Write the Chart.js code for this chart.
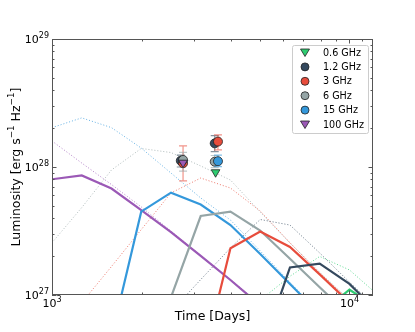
<!DOCTYPE html>
<html>
<head>
<meta charset="utf-8">
<script src="https://cdn.jsdelivr.net/npm/chart.js@4.4.0/dist/chart.umd.min.js"></script>
<style>
    html, body { margin: 0; padding: 0; background: #fff; }
</style>
</head>
<body>
<canvas id="lumChart" width="415" height="332"></canvas>
<script>
// model epochs (days) - luminosities below are in units of 1e27 erg/s/Hz
const modelTimes = [1000, 1259, 1585, 1995, 2512, 3162, 3981, 5012, 6310, 7943, 10000, 12589];

const model06Solid  = [null, null, null, null, null, null, null, null, null, 0.71, 1.10, 0.78];
const model06Dotted = [null, null, null, null, null, null, null, 0.91, 1.40, 2.00, 1.57, 0.98];
const model12Solid  = [null, null, null, null, null, null, null, 0.35, 1.64, 1.76, 1.22, 0.72];
const model12Dotted = [null, null, null, null, 0.74, 1.32, 2.33, 3.89, 3.52, 2.13, 1.26, 0.76];
const model3Solid   = [null, null, null, null, null, 0.26, 2.32, 3.13, 2.37, 1.45, 0.87, null];
const model3Dotted  = [null, 0.87, 1.67, 3.24, 6.27, 8.20, 6.85, 4.53, 2.56, 1.48, 0.91, null];
const model6Solid   = [null, null, null, 0.32, 0.96, 4.14, 4.48, 3.19, 1.92, 1.15, 0.69, null];
const model6Dotted  = [2.56, 4.82, 9.48, 13.96, 12.97, 10.19, 7.91, 4.45, 2.55, 1.51, 0.91, null];
const model15Solid  = [null, null, 0.47, 4.48, 6.30, 5.09, 3.52, 2.09, 1.22, 0.71, null, null];
const model15Dotted = [20.3, 24.2, 20.3, 14.06, 8.97, 5.73, 3.85, 2.21, 1.26, 0.72, null, null];
const model100Solid = [8.02, 8.59, 6.79, 4.61, 3.10, 2.02, 1.31, 0.83, null, null, null, null];
const model100Dotted = [15.96, 10.74, 7.29, 4.88, 3.16, 2.04, 1.32, 0.85, null, null, null, null];

// observations
const bandLabels = ['0.6 GHz', '1.2 GHz', '3 GHz', '6 GHz', '15 GHz', '100 GHz'];
const bandColors = ['#2ecc71', '#34495e', '#e74c3c', '#95a5a6', '#3498db', '#9b59b6'];

const obs06Times = [3548];        const obs06Lum = [9.1];
const obs12Times = [2710, 3524];  const obs12Lum = [11.2, 15.3];
const obs12Low = [10.0, 13.2];    const obs12High = [12.4, 17.6];
const obs3Times = [2758, 3614];   const obs3Lum = [10.7, 15.8];
const obs3Low = [7.8, 13.6];      const obs3High = [14.6, 17.8];
const obs6Times = [2758, 3524];   const obs6Lum = [11.35, 11.0];
const obs6Low = [9.3, 9.9];       const obs6High = [13.0, 12.3];
const obs15Times = [3614];        const obs15Lum = [11.1];
const obs15Low = [10.05];         const obs15High = [12.4];
const obs100Times = [2758];       const obs100Lum = [10.8];

const SCALE = 1e27;
const PLOT = { left: 52, top: 39, right: 373, bottom: 295 };

function modelPoints(vals) {
    return modelTimes.map((t, i) => ({ x: t, y: vals[i] }))
        .filter(p => p.y !== null)
        .map(p => ({ x: p.x, y: p.y * SCALE }));
}

function obsPoints(times, lums) {
    return times.map((t, i) => ({ x: t, y: lums[i] * SCALE }));
}

function hexAlpha(hex, a) {
    const n = parseInt(hex.slice(1), 16);
    return `rgba(${(n >> 16) & 255},${(n >> 8) & 255},${n & 255},${a})`;
}

const solidModels = [model06Solid, model12Solid, model3Solid, model6Solid, model15Solid, model100Solid];
const dottedModels = [model06Dotted, model12Dotted, model3Dotted, model6Dotted, model15Dotted, model100Dotted];
const obsSets = [
    { t: obs06Times, l: obs06Lum, lo: null, hi: null, shape: 'triangle' },
    { t: obs12Times, l: obs12Lum, lo: obs12Low, hi: obs12High, shape: 'circle' },
    { t: obs3Times, l: obs3Lum, lo: obs3Low, hi: obs3High, shape: 'circle' },
    { t: obs6Times, l: obs6Lum, lo: obs6Low, hi: obs6High, shape: 'circle' },
    { t: obs15Times, l: obs15Lum, lo: obs15Low, hi: obs15High, shape: 'circle' },
    { t: obs100Times, l: obs100Lum, lo: null, hi: null, shape: 'triangle' }
];

const datasets = [];
bandColors.forEach((color, i) => {
    datasets.push({
        label: bandLabels[i] + ' model',
        data: modelPoints(dottedModels[i]),
        borderColor: hexAlpha(color, 0.75),
        borderWidth: 1,
        borderDash: [1, 2],
        pointRadius: 0,
        order: 30
    });
    datasets.push({
        label: bandLabels[i] + ' fit',
        data: modelPoints(solidModels[i]),
        borderColor: color,
        borderWidth: 2.2,
        pointRadius: 0,
        order: 20
    });
});
obsSets.forEach((s, i) => {
    datasets.push({
        label: bandLabels[i],
        isObs: true,
        data: obsPoints(s.t, s.l),
        errLow: s.lo,
        errHigh: s.hi,
        showLine: false,
        pointStyle: s.shape,
        pointRotation: s.shape === 'triangle' ? 180 : 0,
        pointRadius: s.shape === 'triangle' ? 5 : 4.5,
        backgroundColor: bandColors[i],
        borderColor: '#222',
        borderWidth: 0.8,
        order: 6 - i
    });
});

// error bars, drawn just before each observation set
const errorBars = {
    id: 'errorBars',
    beforeDatasetDraw(chart, args) {
        const ds = chart.data.datasets[args.index];
        if (!ds.errLow) return;
        const { ctx, scales } = chart;
        const color = bandColors[bandLabels.indexOf(ds.label)];
        ctx.save();
        ctx.strokeStyle = hexAlpha(color, 0.6);
        ctx.lineWidth = 1.2;
        ds.data.forEach((p, i) => {
            const x = scales.x.getPixelForValue(p.x);
            const y1 = scales.y.getPixelForValue(ds.errLow[i] * SCALE);
            const y2 = scales.y.getPixelForValue(ds.errHigh[i] * SCALE);
            ctx.beginPath();
            ctx.moveTo(x, y1); ctx.lineTo(x, y2);
            ctx.moveTo(x - 4, y1); ctx.lineTo(x + 4, y1);
            ctx.moveTo(x - 4, y2); ctx.lineTo(x + 4, y2);
            ctx.stroke();
        });
        ctx.restore();
    }
};

function drawPow(ctx, exp, x, y, align) {
    ctx.font = '11px "DejaVu Sans"';
    const wb = ctx.measureText('10').width;
    ctx.font = '8px "DejaVu Sans"';
    const we = ctx.measureText(exp).width;
    let x0 = x;
    if (align === 'right') x0 = x - wb - we;
    if (align === 'center') x0 = x - (wb + we) / 2;
    ctx.textAlign = 'left';
    ctx.textBaseline = 'alphabetic';
    ctx.font = '11px "DejaVu Sans"';
    ctx.fillText('10', x0, y);
    ctx.font = '8px "DejaVu Sans"';
    ctx.fillText(exp, x0 + wb, y - 5);
}

const axesFrame = {
    id: 'axesFrame',
    afterDraw(chart) {
        const { ctx, chartArea: a, scales } = chart;
        ctx.save();
        ctx.strokeStyle = '#555';
        ctx.lineWidth = 1;
        ctx.strokeRect(a.left + 0.5, a.top + 0.5, a.right - a.left - 1, a.bottom - a.top - 1);

        // ticks, pointing inward on every side
        ctx.beginPath();
        const xMajor = [1000, 10000];
        const xMinor = [2000, 3000, 4000, 5000, 6000, 7000, 8000, 9000, 11000];
        const yMajor = [1e27, 1e28, 1e29];
        const yMinor = [];
        [1e27, 1e28].forEach(d => { for (let k = 2; k <= 9; k++) yMinor.push(k * d); });
        const xt = (v, len) => {
            const x = Math.round(scales.x.getPixelForValue(v)) + 0.5;
            ctx.moveTo(x, a.bottom); ctx.lineTo(x, a.bottom - len);
            ctx.moveTo(x, a.top); ctx.lineTo(x, a.top + len);
        };
        const yt = (v, len) => {
            const y = Math.round(scales.y.getPixelForValue(v)) + 0.5;
            ctx.moveTo(a.left, y); ctx.lineTo(a.left + len, y);
            ctx.moveTo(a.right, y); ctx.lineTo(a.right - len, y);
        };
        xMajor.forEach(v => xt(v, 4.5));
        xMinor.forEach(v => xt(v, 2.5));
        yMajor.forEach(v => yt(v, 4.5));
        yMinor.forEach(v => yt(v, 2.5));
        ctx.stroke();

        // tick labels
        ctx.fillStyle = '#000';
        drawPow(ctx, '29', a.left - 3, scales.y.getPixelForValue(1e29) + 4, 'right');
        drawPow(ctx, '28', a.left - 3, scales.y.getPixelForValue(1e28) + 4, 'right');
        drawPow(ctx, '27', a.left - 3, scales.y.getPixelForValue(1e27) + 4, 'right');
        drawPow(ctx, '3', scales.x.getPixelForValue(1000), a.bottom + 12, 'center');
        drawPow(ctx, '4', scales.x.getPixelForValue(10000), a.bottom + 12, 'center');

        // axis titles
        ctx.font = '12.5px "DejaVu Sans"';
        ctx.textAlign = 'center';
        ctx.textBaseline = 'middle';
        ctx.fillText('Time [Days]', (a.left + a.right) / 2, 317);

        ctx.save();
        ctx.translate(15, (a.top + a.bottom) / 2);
        ctx.rotate(-Math.PI / 2);
        const parts = [['Luminosity [erg s', 0], ['\u22121', 1], [' Hz', 0], ['\u22121', 1], [']', 0]];
        const fontFor = sup => sup ? '8.8px "DejaVu Sans"' : '12.5px "DejaVu Sans"';
        let total = 0;
        parts.forEach(([t, sup]) => { ctx.font = fontFor(sup); total += ctx.measureText(t).width; });
        let px = -total / 2;
        ctx.textAlign = 'left';
        ctx.textBaseline = 'alphabetic';
        parts.forEach(([t, sup]) => {
            ctx.font = fontFor(sup);
            ctx.fillText(t, px, sup ? -1 : 4.5);
            px += ctx.measureText(t).width;
        });
        ctx.restore();

        // legend box inside the plot
        const lx = 292, ly = 45, lw = 76, lh = 88;
        ctx.fillStyle = 'rgba(255,255,255,0.85)';
        ctx.strokeStyle = '#ccc';
        ctx.lineWidth = 1;
        ctx.beginPath();
        ctx.roundRect(lx + 0.5, ly + 0.5, lw, lh, 2);
        ctx.fill();
        ctx.stroke();
        ctx.font = '9.6px "DejaVu Sans"';
        ctx.textBaseline = 'middle';
        ctx.textAlign = 'left';
        bandLabels.forEach((lab, i) => {
            const y = 52.5 + i * 14.4;
            const s = obsSets[i];
            ctx.fillStyle = bandColors[i];
            ctx.strokeStyle = '#222';
            ctx.lineWidth = 0.8;
            ctx.beginPath();
            if (s.shape === 'circle') {
                ctx.arc(305, y, 4, 0, Math.PI * 2);
            } else {
                ctx.moveTo(300.5, y - 3.5);
                ctx.lineTo(309.5, y - 3.5);
                ctx.lineTo(305, y + 4);
                ctx.closePath();
            }
            ctx.fill();
            ctx.stroke();
            ctx.fillStyle = '#000';
            ctx.fillText(lab, 323, y + 0.5);
        });
        ctx.restore();
    }
};

new Chart(document.getElementById('lumChart'), {
    type: 'line',
    data: { datasets },
    options: {
        responsive: false,
        animation: false,
        events: [],
        layout: { padding: { top: PLOT.top, right: 415 - PLOT.right, left: 0, bottom: 0 } },
        plugins: { legend: { display: false }, tooltip: { enabled: false } },
        elements: { line: { tension: 0 } },
        scales: {
            x: {
                type: 'logarithmic',
                min: 1000,
                max: 12000,
                ticks: { display: false },
                grid: { display: false },
                border: { display: false },
                afterFit: s => { s.height = 332 - PLOT.bottom; }
            },
            y: {
                type: 'logarithmic',
                min: 1e27,
                max: 1e29,
                ticks: { display: false },
                grid: { display: false },
                border: { display: false },
                afterFit: s => { s.width = PLOT.left; }
            }
        }
    },
    plugins: [errorBars, axesFrame]
});
</script>
</body>
</html>
